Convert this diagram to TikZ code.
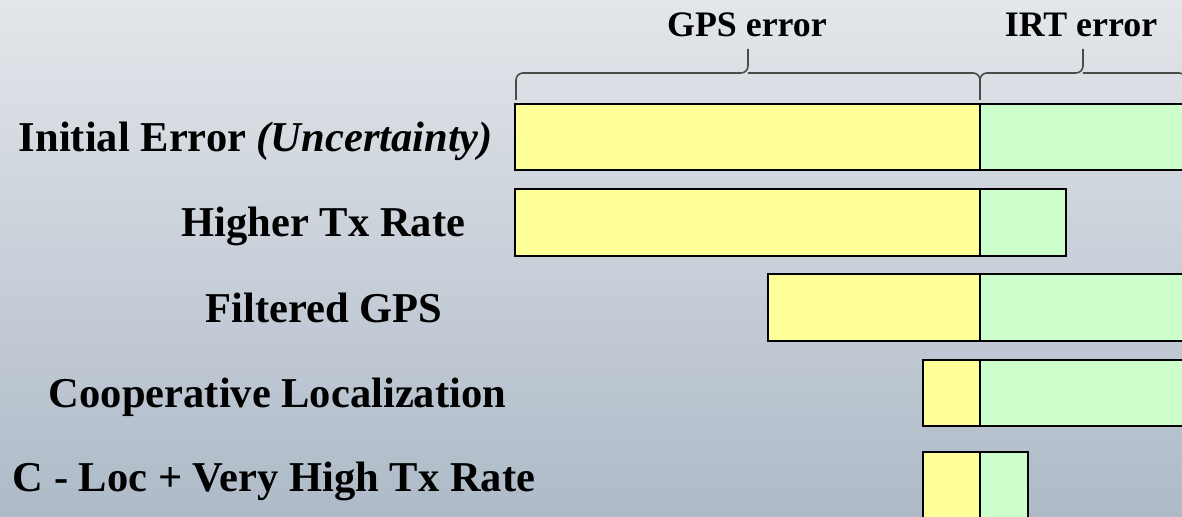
\documentclass[tikz,border=0pt]{standalone}
\usepackage{fontspec}
\setmainfont{Liberation Serif}
\definecolor{gpsfill}{HTML}{FFFF99}
\definecolor{irtfill}{HTML}{CCFFCC}
\definecolor{bgtop}{HTML}{E3E6EA}
\definecolor{bgbottom}{HTML}{AEBAC8}
\definecolor{bracegray}{HTML}{4A4A4A}
\tikzset{
  gpsbar/.style={fill=gpsfill, draw=black, line width=0.8pt},
  irtbar/.style={fill=irtfill, draw=black, line width=0.8pt},
  rowlabel/.style={anchor=base, inner sep=0pt, font=\fontsize{12.1}{14}\selectfont\bfseries},
  bracetext/.style={anchor=base, inner sep=0pt, font=\fontsize{10.2}{12}\selectfont\bfseries},
  errbrace/.style={draw=bracegray, line width=0.45pt, rounded corners=0.07cm}
}
\begin{document}
\begin{tikzpicture}
        % page and background
        \useasboundingbox (0,0) rectangle (11.82,5.17);
        \shade[top color=bgtop, bottom color=bgbottom] (0,0) rectangle (11.82,5.17);
        \clip (0,0) rectangle (11.82,5.17);

        % bars: gps part up to the split, irt part after it
        \coordinate (split) at (9.80,0);
        \foreach \l/\r/\t/\b [count=\i] in {5.15/12.0/4.13/3.47, 5.15/10.66/3.28/2.61,
                                             7.68/12.0/2.43/1.76, 9.23/12.0/1.57/0.91,
                                             9.23/10.28/0.65/-0.10} {
            \draw[gpsbar] (\l,\b) rectangle (split |- 0,\t);
            \draw[irtbar] (split |- 0,\b) rectangle (\r,\t);
        }

        % row labels
        \foreach \x/\y/\txt [count=\i] in {2.56/3.65/{Initial Error \textit{(Uncertainty)}},
                                          3.235/2.80/{Higher Tx Rate},
                                          3.24/1.94/{Filtered GPS},
                                          2.775/1.09/{Cooperative Localization},
                                          2.74/0.25/{C - Loc + Very High Tx Rate}} {
            \node[rowlabel] (row\i) at (\x,\y) {\txt};
        }

        % braces over the two error parts
        \draw[errbrace] (5.16,4.17) |- (7.48,4.44) -- (7.48,4.68) (7.48,4.44) -| (9.80,4.17);
        \draw[errbrace] (9.80,4.17) |- (10.83,4.44) -- (10.83,4.68) (10.83,4.44) -| (11.86,4.17);
        \node[bracetext] (gpserr) at (7.47,4.80) {GPS error};
        \node[bracetext] (irterr) at (10.81,4.80) {IRT error};
\end{tikzpicture}
\end{document}
